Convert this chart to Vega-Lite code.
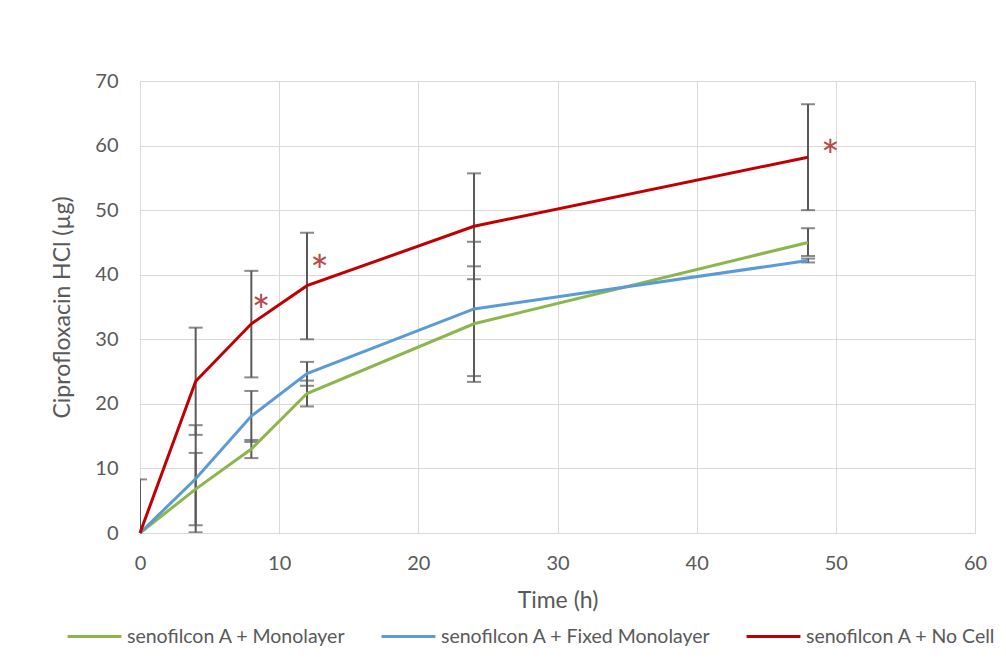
{
  "$schema": "https://vega.github.io/schema/vega-lite/v6.json",
  "width": 835,
  "height": 452,
  "autosize": {"type": "none"},
  "padding": {"left": 140, "top": 81, "right": 31, "bottom": 125},
  "background": "white",
  "config": {
    "font": "Lato",
    "view": {"stroke": null},
    "axis": {
      "labelFont": "Lato",
      "labelColor": "#595959",
      "labelFontSize": 20,
      "titleFont": "Lato",
      "titleColor": "#595959",
      "titleFontSize": 23,
      "titleFontWeight": "normal",
      "gridColor": "#d9d9d9",
      "domainColor": "#d9d9d9",
      "ticks": false,
      "labelFlush": false
    }
  },
  "datasets": {
    "series": [
      {"series": "senofilcon A + Monolayer", "t": 0, "value": 0},
      {"series": "senofilcon A + Monolayer", "t": 4, "value": 6.8},
      {"series": "senofilcon A + Monolayer", "t": 8, "value": 13.0},
      {"series": "senofilcon A + Monolayer", "t": 12, "value": 21.6},
      {"series": "senofilcon A + Monolayer", "t": 24, "value": 32.4},
      {"series": "senofilcon A + Monolayer", "t": 48, "value": 45.0},
      {"series": "senofilcon A + Fixed Monolayer", "t": 0, "value": 0},
      {"series": "senofilcon A + Fixed Monolayer", "t": 4, "value": 8.4},
      {"series": "senofilcon A + Fixed Monolayer", "t": 8, "value": 18.1},
      {"series": "senofilcon A + Fixed Monolayer", "t": 12, "value": 24.7},
      {"series": "senofilcon A + Fixed Monolayer", "t": 24, "value": 34.7},
      {"series": "senofilcon A + Fixed Monolayer", "t": 48, "value": 42.2},
      {"series": "senofilcon A + No Cell", "t": 0, "value": 0},
      {"series": "senofilcon A + No Cell", "t": 4, "value": 23.5},
      {"series": "senofilcon A + No Cell", "t": 8, "value": 32.4},
      {"series": "senofilcon A + No Cell", "t": 12, "value": 38.3},
      {"series": "senofilcon A + No Cell", "t": 24, "value": 47.5},
      {"series": "senofilcon A + No Cell", "t": 48, "value": 58.2}
    ],
    "errors": [
      {"series": "senofilcon A + Monolayer", "t": 4, "lo": 1.2, "hi": 12.4},
      {"series": "senofilcon A + Monolayer", "t": 8, "lo": 11.6, "hi": 14.4},
      {"series": "senofilcon A + Monolayer", "t": 12, "lo": 19.6, "hi": 23.6},
      {"series": "senofilcon A + Monolayer", "t": 24, "lo": 23.4, "hi": 41.3},
      {"series": "senofilcon A + Monolayer", "t": 48, "lo": 42.9, "hi": 47.2},
      {"series": "senofilcon A + Fixed Monolayer", "t": 4, "lo": 0.1, "hi": 16.7},
      {"series": "senofilcon A + Fixed Monolayer", "t": 8, "lo": 14.1, "hi": 22.0},
      {"series": "senofilcon A + Fixed Monolayer", "t": 12, "lo": 22.8, "hi": 26.5},
      {"series": "senofilcon A + Fixed Monolayer", "t": 24, "lo": 24.3, "hi": 45.1},
      {"series": "senofilcon A + Fixed Monolayer", "t": 48, "lo": 41.9, "hi": 42.5},
      {"series": "senofilcon A + No Cell", "t": 0, "lo": -8.3, "hi": 8.3},
      {"series": "senofilcon A + No Cell", "t": 4, "lo": 15.2, "hi": 31.8},
      {"series": "senofilcon A + No Cell", "t": 8, "lo": 24.1, "hi": 40.6},
      {"series": "senofilcon A + No Cell", "t": 12, "lo": 30.0, "hi": 46.5},
      {"series": "senofilcon A + No Cell", "t": 24, "lo": 39.3, "hi": 55.7},
      {"series": "senofilcon A + No Cell", "t": 48, "lo": 50.0, "hi": 66.4}
    ],
    "stars": [
      {"t": 8.7, "y": 35.9, "label": "*"},
      {"t": 12.9, "y": 42.1, "label": "*"},
      {"t": 49.6, "y": 59.9, "label": "*"}
    ]
  },
  "layer": [
    {
      "data": {"name": "errors"},
      "mark": {"type": "errorbar", "ticks": true, "size": 14, "thickness": 2, "color": "#595959", "clip": true},
      "encoding": {
        "x": {"field": "t", "type": "quantitative", "scale": {"domain": [0, 60]},
          "axis": {"values": [0, 10, 20, 30, 40, 50, 60], "title": "Time (h)", "labelPadding": 20, "titlePadding": 16, "grid": true}},
        "y": {"field": "lo", "type": "quantitative", "scale": {"domain": [0, 70]},
          "axis": {"values": [0, 10, 20, 30, 40, 50, 60, 70], "title": "Ciprofloxacin HCl (µg)", "labelPadding": 22, "titlePadding": 20, "grid": true}},
        "y2": {"field": "hi"}
      }
    },
    {
      "data": {"name": "series"},
      "mark": {"type": "line", "strokeWidth": 3},
      "encoding": {
        "x": {"field": "t", "type": "quantitative"},
        "y": {"field": "value", "type": "quantitative"},
        "color": {
          "field": "series", "type": "nominal",
          "scale": {
            "domain": ["senofilcon A + Monolayer", "senofilcon A + Fixed Monolayer", "senofilcon A + No Cell"],
            "range": ["#8cb64c", "#5b9bd5", "#c00000"]
          },
          "legend": {
            "title": null,
            "orient": "none",
            "direction": "horizontal",
            "legendX": -74,
            "legendY": 527,
            "symbolType": "stroke",
            "symbolSize": 2900,
            "symbolStrokeWidth": 3,
            "labelFont": "Lato",
            "labelFontSize": 19.5,
            "labelColor": "#595959",
            "labelOffset": 4,
            "columnPadding": 29,
            "labelLimit": 400
          }
        }
      }
    },
    {
      "data": {"name": "stars"},
      "mark": {"type": "text", "fontSize": 44, "color": "#b8494a", "baseline": "middle", "dy": 13},
      "encoding": {
        "x": {"field": "t", "type": "quantitative"},
        "y": {"field": "y", "type": "quantitative"},
        "text": {"field": "label"}
      }
    }
  ]
}
